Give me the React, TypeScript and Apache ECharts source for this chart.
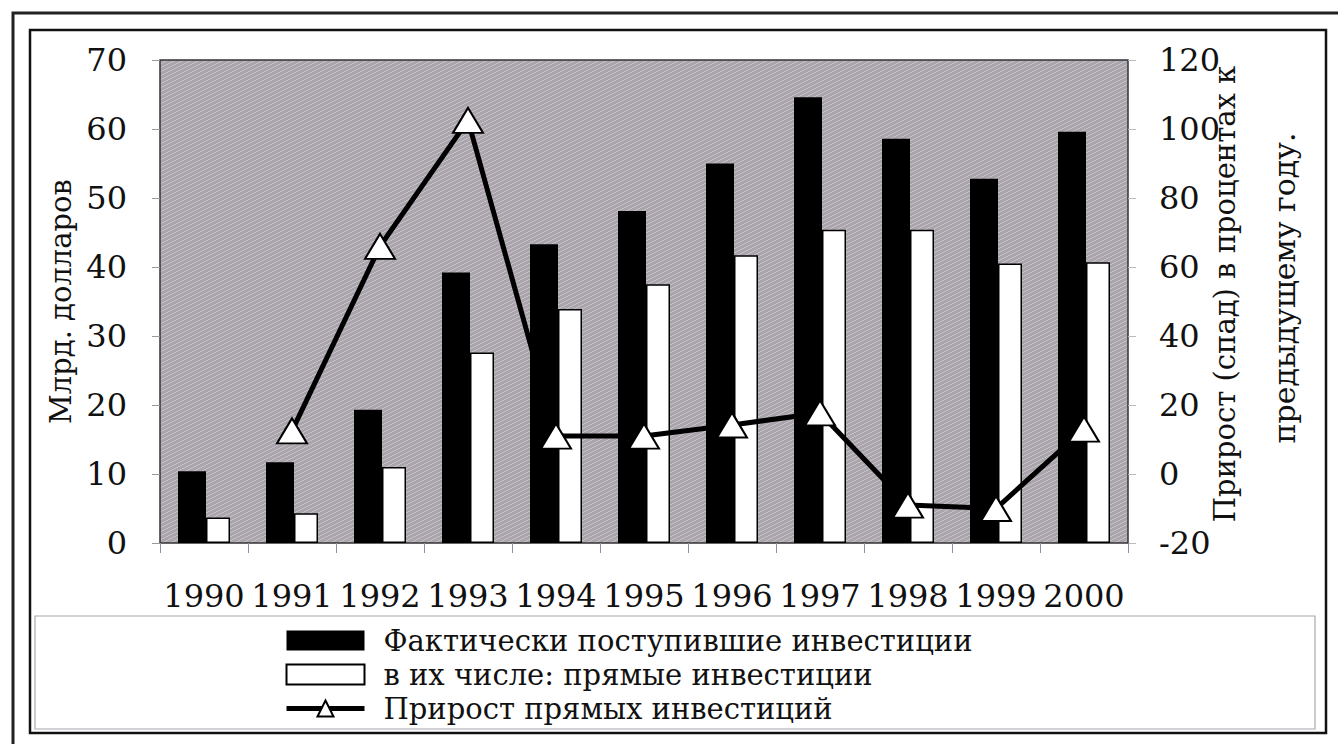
import React, { useEffect, useRef } from "react";
import * as echarts from "echarts";

const years = ["1990", "1991", "1992", "1993", "1994", "1995", "1996", "1997", "1998", "1999", "2000"];
const actualInvestment = [10.4, 11.7, 19.3, 39.2, 43.3, 48.1, 55.0, 64.6, 58.6, 52.8, 59.6];
const directInvestment = [3.7, 4.3, 11.0, 27.6, 33.9, 37.5, 41.7, 45.4, 45.4, 40.5, 40.7];
const directGrowth = [null, 12.5, 66, 102.5, 11, 11, 14.2, 17.7, -9, -10, 13];

const seriesNames = [
  "Фактически поступившие инвестиции",
  "в их числе: прямые инвестиции",
  "Прирост прямых инвестиций",
];
const leftAxisName = "Млрд. долларов";
const rightAxisNameLines = ["Прирост (спад) в процентах к", "предыдущему году."];

const FONT = "DejaVu Serif";

function makeTexture() {
  const c = document.createElement("canvas");
  c.width = 8;
  c.height = 4;
  const ctx = c.getContext("2d");
  if (ctx) {
    ctx.fillStyle = "#aaa5ad";
    ctx.fillRect(0, 0, 8, 4);
    ctx.fillStyle = "#c6c0c6";
    for (let x = 0; x < 8; x++) {
      ctx.fillRect(x, 3 - Math.floor(x / 2), 1, 1);
    }
  }
  return c;
}

export default function App() {
  const ref = useRef<HTMLDivElement>(null);

  useEffect(() => {
    document.body.style.margin = "0";
    if (!ref.current) return;
    const chart = echarts.init(ref.current, undefined, { renderer: "svg" });
    const texture = makeTexture();

    chart.setOption({
      animation: false,
      backgroundColor: "#ffffff",
      textStyle: { fontFamily: FONT, color: "#111" },
      grid: {
        left: 160,
        right: 210,
        top: 60,
        bottom: 201,
        show: true,
        outerBoundsMode: "none",
        containLabel: false,
        backgroundColor: { image: texture, repeat: "repeat", imageWidth: 8, imageHeight: 4 } as any,
        borderColor: "#333",
        borderWidth: 1.5,
      } as any,
      legend: {
        orient: "vertical",
        left: 284,
        top: 624,
        padding: 0,
        itemWidth: 78,
        itemHeight: 20,
        itemGap: 1,
        textStyle: {
          fontFamily: FONT,
          fontSize: 29,
          color: "#111",
          lineHeight: 33,
          padding: [0, 0, 0, 14],
        },
        data: [
          { name: seriesNames[0], icon: "rect" },
          { name: seriesNames[1], icon: "rect" },
          { name: seriesNames[2], lineStyle: { width: 5, color: "#000" } },
        ],
      },
      xAxis: {
        type: "category",
        data: years,
        axisLine: { show: false },
        axisTick: { show: true, length: 10, lineStyle: { color: "#8a90a8", width: 1 } },
        axisLabel: { fontFamily: FONT, fontSize: 32, color: "#111", margin: 37, interval: 0 },
        splitLine: { show: false },
      },
      yAxis: [
        {
          type: "value",
          min: 0,
          max: 70,
          interval: 10,
          position: "left",
          name: leftAxisName,
          nameLocation: "middle",
          nameRotate: 90,
          nameGap: 84,
          nameTextStyle: { fontFamily: FONT, fontSize: 29, color: "#111" },
          axisLine: { show: false },
          axisTick: { show: true, length: 8, lineStyle: { color: "#999" } },
          axisLabel: { fontFamily: FONT, fontSize: 32, color: "#111", margin: 33 },
          splitLine: { show: false },
        },
        {
          type: "value",
          min: -20,
          max: 120,
          interval: 20,
          position: "right",
          axisLine: { show: false },
          axisTick: { show: true, length: 8, lineStyle: { color: "#bbb" } },
          axisLabel: { fontFamily: FONT, fontSize: 32, color: "#111", margin: 31 },
          splitLine: { show: false },
        },
      ],
      series: [
        {
          name: seriesNames[0],
          type: "bar",
          data: actualInvestment,
          barWidth: 28,
          barGap: "0%",
          itemStyle: { color: "#000" },
          z: 2,
        },
        {
          name: seriesNames[1],
          type: "bar",
          data: directInvestment,
          barWidth: 24,
          barGap: "0%",
          itemStyle: { color: "#fff", borderColor: "#000", borderWidth: 1.5 },
          z: 2,
        },
        {
          name: seriesNames[2],
          type: "line",
          yAxisIndex: 1,
          data: directGrowth,
          symbol: "triangle",
          symbolSize: [30, 25],
          showSymbol: true,
          lineStyle: { color: "#000", width: 5 },
          itemStyle: { color: "#fff", borderColor: "#000", borderWidth: 2 },
          z: 3,
        },
      ],
      graphic: [
        {
          type: "rect",
          shape: { x: 13, y: 13, width: 1340, height: 740 },
          style: { fill: "none", stroke: "#222", lineWidth: 3 },
          silent: true,
        },
        {
          type: "rect",
          shape: { x: 30, y: 30, width: 1296, height: 703 },
          style: { fill: "none", stroke: "#111", lineWidth: 2.5 },
          silent: true,
        },
        {
          type: "rect",
          shape: { x: 35, y: 616, width: 1280, height: 113 },
          style: { fill: "none", stroke: "#a8a8b0", lineWidth: 1.2 },
          silent: true,
        },
        {
          type: "text",
          x: 1225,
          y: 294,
          rotation: Math.PI / 2,
          style: {
            text: rightAxisNameLines[0],
            font: `29px "${FONT}"`,
            fill: "#111",
            align: "center",
            verticalAlign: "middle",
          },
          silent: true,
        },
        {
          type: "text",
          x: 1284,
          y: 288,
          rotation: Math.PI / 2,
          style: {
            text: rightAxisNameLines[1],
            font: `30px "${FONT}"`,
            fill: "#111",
            align: "center",
            verticalAlign: "middle",
          },
          silent: true,
        },
      ],
    });

    return () => {
      chart.dispose();
    };
  }, []);

  return <div ref={ref} style={{ width: 1338, height: 744 }} />;
}
